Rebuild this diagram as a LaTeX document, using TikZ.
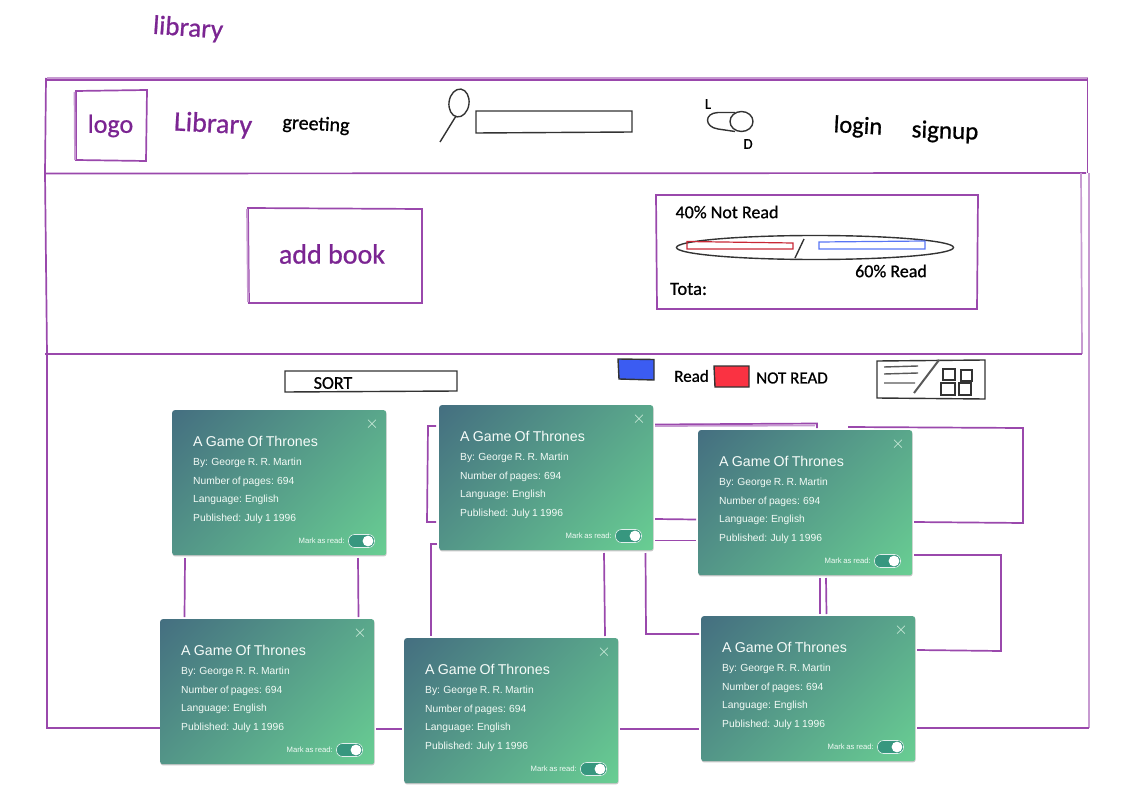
\documentclass[tikz,border=0pt]{standalone}
\usepackage{fontspec}
\setmainfont[WordSpace=0.8]{Liberation Sans}
\newfontfamily\handfont[FakeBold=0.8]{Carlito}
\usetikzlibrary{shadows}
\definecolor{wirepurple}{HTML}{9A48AC}
\definecolor{inkpurple}{HTML}{7B2592}
\definecolor{cardtop}{HTML}{446E80}
\definecolor{cardend}{HTML}{69CF93}
\definecolor{knobgreen}{HTML}{37977F}
\definecolor{readblue}{HTML}{3B5CF2}
\definecolor{notred}{HTML}{FA3242}
\pgfdeclareverticalshading{cardfade}{100bp}{color(0bp)=(cardend); color(14bp)=(cardend); color(86bp)=(cardtop); color(100bp)=(cardtop)}
\newcommand{\fs}[1]{\fontsize{#1}{#1}\selectfont}
\newcommand{\bookcard}[3]{%
	\begin{scope}[shift={(#2,#3)}]
		\node[card] (#1) at (0,0) {};
		\node[cardtitle] (#1-title) at (21,36) {A Game Of Thrones};
		\node[cardline] (#1-by) at (21,55.7) {By: George R. R. Martin};
		\node[cardline] (#1-pages) at (21,74.2) {Number of pages: 694};
		\node[cardline] (#1-lang) at (21,92.7) {Language: English};
		\node[cardline] (#1-date) at (21,111.7) {Published: July 1 1996};
		\node[cardmark] (#1-mark) at (173,133.5) {Mark as read:};
		\node[cardclose] (#1-close) at (200,14) {$\times$};
		\draw[draw=white!85!knobgreen,fill=knobgreen,rounded corners=6,line width=0.6pt] (176.5,124.5) rectangle (202.5,137.5);
		\fill[white] (196,131) circle (5.4);
	\end{scope}}

\begin{document}
\begin{tikzpicture}[
		x=1pt,y=-1pt,
		wire/.style={draw=wirepurple,line width=1.7pt},
		wirefaint/.style={draw=wirepurple!55,line width=1.7pt},
		pen/.style={draw=black!80,line width=1.4pt},
		hand/.style={font=\handfont,inner sep=0pt},
		card/.style={anchor=north west,minimum width=214pt,minimum height=145pt,inner sep=0pt,
		rounded corners=2.5pt,shading=cardfade,shading angle=45,
		general shadow={fill=black!22,shadow yshift=-1.2pt,shadow xshift=0.4pt}},
		cardtitle/.style={anchor=base west,inner sep=0pt,text=white!94!cardend,font=\fs{14.2}},
		cardline/.style={anchor=base west,inner sep=0pt,text=white!92!cardend,font=\fs{10.3}},
		cardmark/.style={anchor=base east,inner sep=0pt,text=white!90!cardend,font=\fs{7.7}},
		cardclose/.style={inner sep=0pt,text=white!75!cardend,font=\fs{16}}
		]
		\useasboundingbox (0,0) rectangle (1131,799);
		% outer frame and bands
		\draw[wirefaint] (47,78) -- (1088,78);
		\draw[wire] (46,80) -- (1087,80);
		\draw[wire] (1087.5,78) -- (1087.5,173);
		\draw[wirefaint] (1089,173) -- (1089,728);
		\draw[wire] (46,78) -- (45,173) -- (47,354) -- (47,728) -- (160,728);
		\draw[wire] (44,173.5) -- (1086,173);
		\draw[wirefaint] (1081,173) -- (1082,354);
		\draw[wire] (45,354) -- (1082,354);
		% header
		\draw[wire] (76,91) -- (147,90) -- (146,161) -- (76,160) -- cycle;
		\draw[wirefaint] (74.5,92) -- (75,160);
		\node[hand,text=inkpurple,font=\handfont\fs{27},rotate=-4] (title) at (188,29) {library};
		\node[hand,text=inkpurple,font=\handfont\fs{26}] (logo) at (110.5,126) {logo};
		\node[hand,text=inkpurple,font=\handfont\fs{28},rotate=-3] (brand) at (213,125) {Library};
		\node[hand,text=black,font=\handfont\fs{20},rotate=-3] (greeting) at (316,125) {greeting};
		\draw[pen,rotate around={-8:(459,103)}] (459,103) ellipse (10 and 14);
		\draw[pen] (456,116) -- (440,142);
		\draw[pen] (476,111) -- (632,111) -- (632,132) -- (476,133) -- cycle;
		\node[hand,font=\handfont\fs{15}] (light) at (708,104) {L};
		\draw[pen] (735,112.5) -- (718,112.5) .. controls (704,113) and (704,127) .. (718,129) -- (735,131.5);
		\draw[pen] (741.5,121.5) ellipse (11.5 and 10);
		\node[hand,font=\handfont\fs{15}] (dark) at (748,144) {D};
		\node[hand,font=\handfont\fs{24.5},rotate=-3] (login) at (858,127) {login};
		\node[hand,font=\handfont\fs{25},rotate=-2] (signup) at (945,132) {signup};
		% add book and stats
		\draw[wire] (248,208) -- (422,209) -- (422,303) -- (249,303) -- cycle;
		\draw[wirefaint] (247,209) -- (248,302);
		\node[hand,text=inkpurple,font=\handfont\fs{28}] (addbook) at (332,254) {add book};
		\draw[wire] (656,195) -- (978,195) -- (977,309) -- (657,309) -- cycle;
		\node[hand,font=\handfont\fs{18}] (notread) at (727,212) {40\% Not Read};
		\draw[pen] (815,247.5) ellipse (138.5 and 12);
		\draw[notred!80!black,line width=1.2pt] (687,241.5) -- (793,243) -- (793,249) -- (687,249) -- cycle;
		\draw[readblue!85,line width=1.2pt] (819,242) -- (925,241) -- (925,249) -- (819,249) -- cycle;
		\draw[pen] (795,258) -- (804,239);
		\node[hand,font=\handfont\fs{18}] (read) at (891,271) {60\% Read};
		\node[hand,font=\handfont\fs{18.5}] (total) at (688.5,289) {Tota:};
		% toolbar
		\draw[pen] (285,371) -- (457,371) -- (457,391) -- (285,392) -- cycle;
		\node[hand,font=\handfont\fs{18}] (sort) at (333,383) {SORT};
		\draw[pen,fill=readblue] (618,359) -- (654,359.5) -- (654,380) -- (619,379) -- cycle;
		\node[hand,font=\handfont\fs{17}] (legendread) at (691.5,376) {Read};
		\draw[pen,fill=notred] (714,366) -- (749,366) -- (749,387) -- (715,387) -- cycle;
		\node[hand,font=\handfont\fs{17}] (legendnot) at (792,378) {NOT READ};
		\draw[pen] (877,361) -- (985,360) -- (985,399) -- (877,398) -- cycle;
		\draw[pen,draw=black!65] (884,367) -- (918,366) (884,374) -- (918,373) (884,383) -- (915,383);
		\draw[pen,draw=black!65,line width=2pt] (914,393) -- (939,360);
		\draw[pen] (943,369) rectangle (955,380) (961,370) rectangle (972,381);
		\draw[pen] (941,383) rectangle (955,395) (959,383) rectangle (971,395);
		% lines behind the cards
		\draw[wire] (185,558) -- (184.5,617);
		\draw[wire] (358,558) -- (358.5,617);
		\draw[wire] (436,426) -- (428,426) -- (427,522) -- (436,522);
		\draw[wire] (437,544) -- (431,544) -- (431,636);
		\draw[wire] (604,553) -- (605,636);
		\draw[wire] (645.5,553) -- (646,634) -- (699,634);
		\draw[wire] (655,424.5) -- (817,423.5) -- (817,428);
		\draw[wirefaint] (655,426) -- (815,425.5);
		\draw[wire] (655,519) -- (696,519.5);
		\draw[wire] (655,540.5) -- (696,540.5);
		\draw[wire] (848,427) -- (1023,428) -- (1023,523) -- (914,522);
		\draw[wire] (914,555) -- (1001,555) -- (1001,651) -- (917,650);
		\draw[wire] (820,578) -- (820,614);
		\draw[wire] (826,578) -- (826.5,614);
		\draw[wire] (376,729) -- (402,729);
		\draw[wire] (620,729) -- (699,729);
		\draw[wire] (917,728) -- (1089,728);
		% book cards
		\bookcard{cardone}{172}{410}
		\bookcard{cardtwo}{439}{405}
		\bookcard{cardthree}{698}{430}
		\bookcard{cardfour}{160}{619}
		\bookcard{cardfive}{404}{638}
		\bookcard{cardsix}{701}{616}
	\end{tikzpicture}
\end{document}
